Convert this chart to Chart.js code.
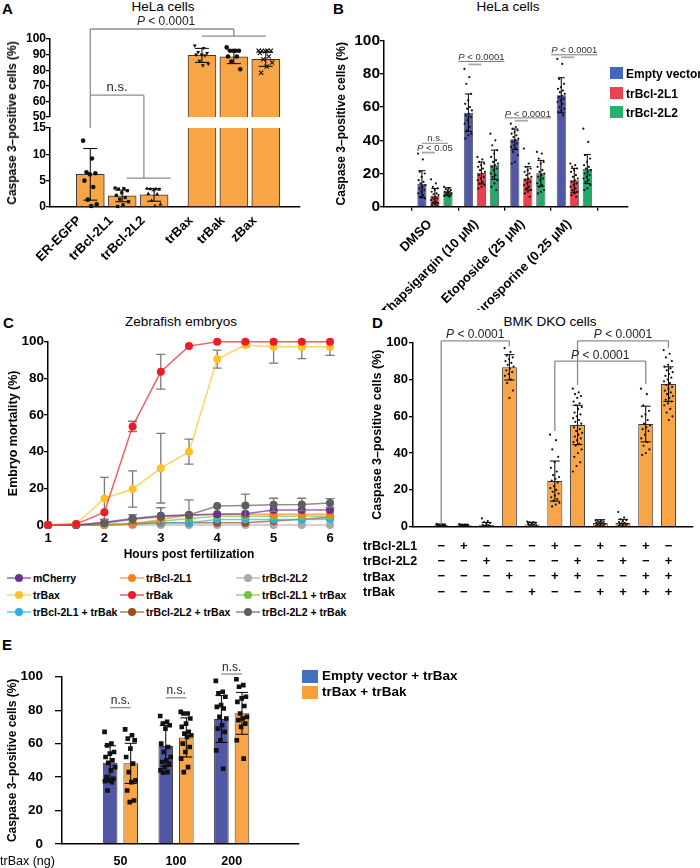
<!DOCTYPE html>
<html lang="en">
<head>
<meta charset="utf-8">
<title>Caspase 3 activation panels</title>
<script src="https://cdn.jsdelivr.net/npm/chart.js@4.4.1/dist/chart.umd.min.js"></script>
<style>
  html, body { margin: 0; padding: 0; background: #fff; }
  body {
    position: relative; width: 700px; height: 868px; overflow: hidden;
    font-family: 'Liberation Sans', Arial, Helvetica, sans-serif; color: #000;
  }
  canvas { position: absolute; }
  .txt { position: absolute; white-space: nowrap; line-height: 1; }
  .box { position: absolute; }
</style>
</head>
<body>
<script>
// ============================================
// DATA
// ============================================

// Panel A - HeLa cells (broken y axis)
const labelsA = ['ER-EGFP', 'trBcl-2L1', 'trBcl-2L2', 'trBax', 'trBak', 'zBax'];
const meanA = [6.2, 2.1, 2.3, 89.5, 88.5, 87.0];
const sdA = [4.9, 1.1, 1.2, 4.5, 4.3, 4.5];
const dotsA = [
  [12.6, 9.2, 6.6, 6.4, 6.2, 5.0, 3.8, 1.4, 0.5, 0.2],
  [3.6, 3.5, 3.4, 3.1, 2.7, 2.2, 1.8, 1.5, 1.0, 0.4, 0.1],
  [3.5, 3.4, 3.4, 3.3, 3.2, 2.5, 2.4, 1.2, 0.5, 0.2],
  [95.7, 94.2, 91.6, 91.0, 90.0, 90.0, 89.5, 86.0, 84.1, 83.0],
  [94.6, 92.5, 92.5, 92.5, 92.5, 88.8, 88.8, 85.6, 80.6],
  [92.5, 92.5, 92.5, 92.4, 92.2, 91.0, 88.8, 87.0, 85.0, 82.3, 78.4]
];

// Panel B - HeLa cells, three series per treatment
const groupsB = ['DMSO', 'Thapsigargin (10 μM)', 'Etoposide (25 μM)', 'Staurosporine (0.25 μM)'];
const seriesB = ['Empty vector', 'trBcl-2L1', 'trBcl-2L2'];
const meanB_empty = [13.7, 56.6, 40.6, 67.1];
const meanB_L1 = [6.6, 20.3, 17.1, 15.9];
const meanB_L2 = [9.0, 25.3, 20.1, 22.7];
const sdB_empty = [8.0, 11.3, 6.2, 10.6];
const sdB_L1 = [4.4, 6.6, 7.0, 7.2];
const sdB_L2 = [2.4, 8.8, 7.8, 8.8];
const dotsB_empty = [
  [32, 28.5, 21, 20, 18, 16, 15, 14, 13, 12, 11, 10, 9, 8, 7, 6, 5, 5.5],
  [83, 78, 74, 68, 64, 62, 60, 59, 58, 56, 55, 54, 52, 50, 48, 46, 44, 43, 41],
  [50, 48, 47, 46, 45, 44, 43, 42, 41, 40, 39, 38, 37, 36, 35, 33, 31, 27, 26],
  [89, 86, 77, 74, 72, 71, 70, 69, 68, 67, 66, 65, 64, 63, 62, 60, 59, 58, 57, 55]
];
const dotsB_L1 = [
  [16.5, 14, 12, 11, 10, 9, 8, 7.5, 7, 6, 5.5, 5, 4.5, 4, 3, 2.5, 2, 1.5, 1, 0.5],
  [30, 28.5, 27, 26, 25, 24, 23, 22, 21, 20, 19, 18, 17, 16, 15, 14, 13, 12, 11],
  [35, 26, 24, 23, 22, 21, 20, 19, 18, 17, 16, 15, 14, 13, 12, 11, 10, 9, 8, 6],
  [26, 25, 24, 23, 22, 21, 19, 18, 17, 16, 15, 14, 13, 12, 11, 10, 9, 8, 7, 6]
];
const dotsB_L2 = [
  [12, 11, 10.5, 10, 9.5, 9, 9, 8.5, 8, 8, 7.5, 7, 7, 6.5, 6],
  [44, 40, 37, 34, 32, 30, 28, 27, 26, 25, 24, 23, 22, 20, 19, 18, 16, 14, 12, 10],
  [33, 32, 29, 27, 26, 24, 22, 21, 20, 19, 18, 17, 16, 14, 13, 12, 10, 9, 8],
  [47, 39, 31, 29, 27, 25, 24, 23, 22, 21, 20, 19, 18, 17, 16, 15, 13, 11, 10]
];

// Panel C - zebrafish embryo mortality over time
const hoursC = [1, 1.5, 2, 2.5, 3, 3.5, 4, 4.5, 5, 5.5, 6];
const namesC = ['mCherry', 'trBcl-2L1', 'trBcl-2L2', 'trBax', 'trBak',
  'trBcl-2L1 + trBax', 'trBcl-2L1 + trBak', 'trBcl-2L2 + trBax', 'trBcl-2L2 + trBak'];
const mortMCherry = [0, 0, 1.5, 3.5, 5, 5.5, 5.8, 6.2, 8.2, 8.2, 8.2];
const mortL1 = [0, 0, 0, 0.5, 3, 5.5, 5.8, 5.8, 5.8, 5.8, 5.8];
const mortL2 = [0, 0, 0, 0, 0, 0, 0, 0, 0, 0, 0];
const mortBax = [0, 0.5, 14.5, 19.6, 31, 40, 90.5, 98.2, 97.3, 97.3, 97.3];
const mortBak = [0, 0.5, 7, 53.8, 83.6, 97.6, 100, 100, 100, 100, 100];
const mortL1Bax = [0, 0, 0.3, 1, 2, 3.5, 4.8, 4.8, 4.8, 4.8, 4.8];
const mortL1Bak = [0, 0, 0.2, 0.5, 1.2, 1.2, 3, 3, 3, 3, 3.2];
const mortL2Bax = [0, 0, 0, 0.5, 1.2, 1.2, 1.2, 1.2, 2.2, 3.2, 4.2];
const mortL2Bak = [0, 0, 1, 3.2, 4.5, 5.5, 10.4, 10.6, 11, 11.2, 12];
const sdMCherry = [0, 0, 0, 0, 4.5, 0, 0, 0, 0, 0, 0];
const sdBax = [0, 0, 11.5, 9.9, 19, 6.8, 4.9, 1, 9, 6.5, 4.8];
const sdBak = [0, 0, 0, 2.8, 9.5, 0, 0, 0, 0, 0, 0];
const sdL2Bak = [0, 0, 0, 2.5, 5, 8.2, 0, 6.2, 3.6, 3.4, 2.4];

// Panel D - BMK DKO cells
const signL1 = ['−', '+', '−', '−', '−', '+', '−', '+', '−', '+', '−'];
const signL2 = ['−', '−', '+', '−', '−', '−', '+', '−', '+', '−', '+'];
const signBax = ['−', '−', '−', '+', '−', '+', '+', '−', '−', '+', '+'];
const signBak = ['−', '−', '−', '−', '+', '−', '−', '+', '+', '+', '+'];
const rowNamesD = ['trBcl-2L1', 'trBcl-2L2', 'trBax', 'trBak'];
const meanD = [0.8, 0.8, 1.0, 86.6, 1.2, 24.8, 55.3, 2.0, 2.0, 55.8, 77.5];
const sdD = [0.6, 0.5, 1.3, 6.9, 1.2, 10.9, 10.7, 1.8, 2.0, 9.7, 9.4];
const dotsD = [
  [1.5, 1.3, 1.1, 1.0, 0.9, 0.8, 0.7, 0.6, 0.5, 0.3, 0.2, 0.1],
  [1.4, 1.2, 1.1, 1.0, 0.9, 0.8, 0.7, 0.6, 0.5, 0.4, 0.3],
  [4.5, 3.0, 2.5, 2.0, 1.5, 1.0, 0.8, 0.5, 0.3, 0.2, 0.1, 0],
  [97, 95, 93, 92, 91, 90, 89, 88, 87, 86, 85, 84, 83, 82, 80, 78, 74, 70],
  [2.8, 2.5, 2.3, 2.0, 1.8, 1.5, 1.2, 1.0, 0.8, 0.5, 0.3, 0.1],
  [50, 47, 42, 38, 35, 32, 30, 28, 27, 26, 25, 24, 22, 21, 20, 19, 18, 17, 16, 15, 14, 13, 12, 11],
  [75, 73, 72, 71, 70, 68, 67, 66, 65, 64, 62, 61, 60, 59, 58, 57, 56, 55, 54, 53, 52, 51, 50, 49, 48, 47, 46, 45, 44, 42, 40, 38, 35, 33, 30],
  [3.5, 3.2, 3.0, 2.8, 2.5, 2.2, 2.0, 1.8, 1.5, 1.2, 1.0, 0.8, 0.5, 0.3],
  [8, 5, 4, 3.5, 3, 2.5, 2, 1.8, 1.5, 1.2, 1, 0.8, 0.5, 0.3],
  [75, 72, 66, 63, 61, 60, 58, 56, 55, 54, 53, 52, 50, 48, 46, 44, 42, 40, 39],
  [96, 94, 92, 90, 88, 87, 86, 85, 84, 83, 82, 81, 80, 79, 78, 77, 76, 75, 74, 73, 72, 71, 70, 69, 68, 67, 66, 64, 62, 60, 58]
];

// Panel E - trBax dose series
const doseE = ['50', '100', '200'];
const seriesE = ['Empty vector + trBax', 'trBax + trBak'];
const meanE_empty = [48.6, 58.6, 74.7];
const meanE_bak = [48.2, 63.7, 78.1];
const sdE_empty = [10.1, 12.2, 14.0];
const sdE_bak = [12.0, 11.7, 12.5];
const dotsE_empty = [
  [67, 60, 59, 55, 54, 52, 50, 48.5, 46, 44, 40, 39, 38, 37.5, 37, 32],
  [76.5, 73, 72, 71, 69, 60, 58, 55, 52, 50, 49, 48, 46, 44, 43, 42.6],
  [97.5, 91, 90, 88, 83, 82, 81, 76, 75, 71, 69, 67, 62, 56, 45]
];
const dotsE_bak = [
  [68.5, 65, 63, 62, 57, 52, 48, 43, 38, 37, 32, 26, 25],
  [79, 78, 78, 75, 72, 70, 67, 66, 65, 64, 60, 58, 55, 51, 46, 43],
  [98.5, 95, 94, 88, 87, 85, 82.5, 78, 76, 75, 74, 72, 70, 62, 51]
];

// ============================================
// SETUP
// ============================================
const FONT = "'Liberation Sans', Arial, Helvetica, sans-serif";
Chart.defaults.font.family = FONT;
Chart.defaults.color = '#000';
Chart.defaults.animation = false;
Chart.defaults.responsive = false;
Chart.defaults.plugins.legend.display = false;
Chart.defaults.plugins.tooltip.enabled = false;

const ORANGE = '#F8A548';
const EDGE = '#3a3a3a';
const BRACKET = '#8c8c8c';

function bold(size) { return { family: FONT, size: size, weight: 'bold' }; }

function alpha(hex, a) {
  const n = parseInt(hex.slice(1), 16);
  return 'rgba(' + (n >> 16) + ',' + ((n >> 8) & 255) + ',' + (n & 255) + ',' + a + ')';
}

function makeCanvas(left, top, w, h) {
  const c = document.createElement('canvas');
  c.width = w; c.height = h;
  c.style.left = left + 'px'; c.style.top = top + 'px';
  c.style.width = w + 'px'; c.style.height = h + 'px';
  document.body.appendChild(c);
  return c.getContext('2d');
}

// text placed by its baseline (line-height 1)
function addText(text, x, baseline, size, opts) {
  opts = opts || {};
  const d = document.createElement('div');
  d.className = 'txt';
  d.textContent = text;
  d.style.fontSize = size + 'px';
  d.style.left = x + 'px';
  d.style.top = (baseline - 0.8465 * size) + 'px';
  if (opts.bold) d.style.fontWeight = 'bold';
  if (opts.center) d.style.transform = 'translateX(-50%)';
  document.body.appendChild(d);
  return d;
}

function addBox(x, y, w, h, color, radius) {
  const d = document.createElement('div');
  d.className = 'box';
  d.style.left = x + 'px'; d.style.top = y + 'px';
  d.style.width = w + 'px'; d.style.height = h + 'px';
  d.style.background = color;
  if (radius) d.style.borderRadius = radius;
  document.body.appendChild(d);
  return d;
}

// deterministic horizontal spread for the individual dots
function spread(k, width) { return (((k * 0.618034) % 1) - 0.5) * width; }

function dotSet(values, center, width, style) {
  return Object.assign({
    type: 'scatter',
    data: values.map((v, k) => ({ x: center + spread(k, width), y: v })),
    pointRadius: 1.2,
    pointBackgroundColor: '#111',
    pointBorderColor: '#111',
    pointBorderWidth: 0,
    order: 0
  }, style || {});
}

function yAxis(o) {
  return {
    type: 'linear', min: o.min, max: o.max,
    ticks: { stepSize: o.step, autoSkip: false, font: bold(o.font), color: '#000', padding: o.pad || 0 },
    grid: { display: true, drawOnChartArea: false, drawTicks: true, tickLength: o.tick || 4, color: '#000', lineWidth: 1.3 },
    border: { display: true, color: '#000', width: 1.5 },
    title: o.title
      ? { display: true, text: o.title, font: bold(o.titleSize || 12), color: '#000', padding: { top: o.titlePad || 0, bottom: 0 } }
      : { display: false },
    afterFit: (a) => { a.width = o.width; }
  };
}

function xAxis(o) {
  return {
    type: 'linear', min: o.min, max: o.max,
    afterBuildTicks: (a) => { a.ticks = o.positions.map(v => ({ value: v })); },
    ticks: {
      autoSkip: false, maxRotation: o.rot || 0, minRotation: o.rot || 0,
      labelOffset: o.shift || 0,
      font: Object.assign(bold(o.font), o.lineHeight ? { lineHeight: o.lineHeight } : {}),
      color: '#000', padding: o.pad || 0,
      callback: (v, i) => o.labels[i]
    },
    grid: { display: !!o.tickMarks, drawOnChartArea: false, drawTicks: !!o.tickMarks, tickLength: 4, color: '#000', lineWidth: 1.3 },
    border: { display: o.border !== false, color: '#000', width: 1.5 },
    title: o.title
      ? { display: true, text: o.title, font: bold(o.titleSize || 12), color: '#000', padding: 0 }
      : { display: false },
    afterFit: (a) => { a.height = o.height; }
  };
}

function seg(ctx, x1, y1, x2, y2) {
  ctx.beginPath(); ctx.moveTo(x1, y1); ctx.lineTo(x2, y2); ctx.stroke();
}

// text with an italic leading "P"
function pText(ctx, txt, cx, y, size, color) {
  const italicP = txt.charAt(0) === 'P';
  const head = italicP ? 'P' : '';
  const rest = italicP ? txt.slice(1) : txt;
  ctx.font = 'italic ' + size + 'px ' + FONT;
  const wP = head ? ctx.measureText(head).width : 0;
  ctx.font = size + 'px ' + FONT;
  const wR = ctx.measureText(rest).width;
  const x = cx - (wP + wR) / 2;
  ctx.fillStyle = color || '#222';
  ctx.textAlign = 'left';
  ctx.textBaseline = 'alphabetic';
  if (head) { ctx.font = 'italic ' + size + 'px ' + FONT; ctx.fillText(head, x, y); }
  ctx.font = size + 'px ' + FONT;
  ctx.fillText(rest, x + wP, y);
  return { left: x, right: x + wP + wR };
}

// ============================================
// ERROR BARS (mean ± SD) through the chart scales
// ============================================
function drawErrorBars(chart, index) {
  const ds = chart.data.datasets[index];
  if (!ds.sd) return;
  const meta = chart.getDatasetMeta(index);
  const ys = chart.scales[meta.yAxisID];
  const area = chart.chartArea;
  const ctx = chart.ctx;
  ctx.save();
  ctx.beginPath();
  ctx.rect(area.left - 10, area.top, area.right - area.left + 20, area.bottom - area.top);
  ctx.clip();
  ctx.strokeStyle = ds.errColor || '#000';
  ctx.lineWidth = ds.errWidth || 1;
  const c = ds.cap || 4;
  meta.data.forEach((el, i) => {
    const sd = ds.sd[i];
    if (!sd) return;
    const v = ds.data[i].y;
    const yHi = ys.getPixelForValue(v + sd), yLo = ys.getPixelForValue(v - sd);
    seg(ctx, el.x, yHi, el.x, yLo);
    seg(ctx, el.x - c, yHi, el.x + c, yHi);
    seg(ctx, el.x - c, yLo, el.x + c, yLo);
  });
  ctx.restore();
}

Chart.register({
  id: 'errorBars',
  beforeDatasetDraw(chart, args) {
    if (chart.data.datasets[args.index].errUnder) drawErrorBars(chart, args.index);
  },
  afterDatasetDraw(chart, args) {
    if (!chart.data.datasets[args.index].errUnder) drawErrorBars(chart, args.index);
  }
});

// ============================================
// PANEL LETTERS AND TITLES
// ============================================
addText('A', 2, 14, 15, { bold: true });
addText('B', 333, 14, 15, { bold: true });
addText('C', 3, 327.5, 15, { bold: true });
addText('D', 372, 327.5, 15, { bold: true });
addText('E', 2, 650, 15, { bold: true });
addText('HeLa cells', 163, 11, 13.5, { center: true });
addText('HeLa cells', 508, 11, 13.5, { center: true });
addText('Zebrafish embryos', 181, 326.7, 13.5, { center: true });
addText('BMK DKO cells', 550, 326.7, 13.5, { center: true });

// ============================================
// PANEL A (two stacked charts make the broken axis)
// ============================================
const gapA = 0.5;
const posA = (i) => i + (i >= 3 ? gapA : 0);
const markerA = ['circle', 'rect', 'triangle', 'triangle', 'circle', 'crossRot'];
const markerRotA = [0, 0, 0, 180, 0, 0];

function datasetsA(clip) {
  const list = [{
    type: 'bar',
    data: labelsA.map((_, i) => ({ x: posA(i), y: meanA[i] })),
    backgroundColor: ORANGE, borderColor: EDGE, borderWidth: 1,
    barThickness: 28, sd: sdA, cap: 7, clip: clip, order: 1
  }];
  dotsA.forEach((vals, i) => {
    const cross = markerA[i] === 'crossRot';
    list.push(dotSet(vals, posA(i), 0.45, {
      pointStyle: markerA[i], rotation: markerRotA[i],
      pointRadius: cross ? 3 : 2.3, pointBorderWidth: cross ? 1.1 : 0, clip: clip
    }));
  });
  return list;
}

function xAxisA(height) {
  return xAxis({
    min: -0.61, max: 5.92, positions: labelsA.map((_, i) => posA(i)), labels: labelsA,
    rot: 45, font: 13, pad: 6, shift: -11, height: height
  });
}

const chartAUp = new Chart(makeCanvas(0, 0, 310, 280), {
  type: 'bar',
  data: { datasets: datasetsA({ left: false, right: false, top: 6, bottom: 0 }) },
  options: {
    layout: { autoPadding: false, padding: { top: 39, bottom: 163, left: 0, right: 10 } },
    scales: {
      x: Object.assign(xAxisA(0), { display: false }),
      y: yAxis({ min: 50, max: 100, step: 10, width: 50, font: 12, tick: 4, pad: 0 })
    }
  }
});

const bracketsA = {
  id: 'bracketsA',
  afterDraw(chart) {
    const ctx = chart.ctx;
    const xs = chart.scales.x, yLo = chart.scales.y, yUp = chartAUp.scales.y;
    const X = (v) => xs.getPixelForValue(v);
    ctx.save();
    ctx.strokeStyle = BRACKET;
    ctx.lineWidth = 1.3;
    // ER-EGFP vs trBax / trBak / zBax
    const yTop = yUp.getPixelForValue(106.4), yJoin = yUp.getPixelForValue(101.9);
    seg(ctx, X(posA(0)), yTop, X(posA(4)), yTop);
    seg(ctx, X(posA(0)), yTop, X(posA(0)), yLo.getPixelForValue(15));
    seg(ctx, X(posA(4)), yTop, X(posA(4)), yJoin);
    seg(ctx, X(posA(3)), yJoin, X(posA(5)), yJoin);
    pText(ctx, 'P < 0.0001', (X(posA(0)) + X(posA(4))) / 2 + 4, yTop - 4, 12, '#222');
    // ER-EGFP vs trBcl-2L1 / trBcl-2L2
    const yNs = yUp.getPixelForValue(64), yNsLow = yLo.getPixelForValue(5.5);
    const xMid = X(1.68);
    seg(ctx, X(posA(0)), yNs, xMid, yNs);
    seg(ctx, xMid, yNs, xMid, yNsLow);
    seg(ctx, X(1.14), yNsLow, X(2.52), yNsLow);
    ctx.font = '13px ' + FONT;
    ctx.fillStyle = '#222';
    ctx.textAlign = 'center';
    ctx.textBaseline = 'alphabetic';
    ctx.fillText('n.s.', (X(posA(0)) + xMid) / 2, yNs - 4);
    ctx.restore();
  }
};

new Chart(makeCanvas(0, 0, 310, 280), {
  type: 'bar',
  data: { datasets: datasetsA({ left: false, right: false, top: 0, bottom: 4 }) },
  options: {
    layout: { autoPadding: false, padding: { top: 128, bottom: 0, left: 0, right: 10 } },
    scales: {
      x: xAxisA(73),
      y: yAxis({ min: 0, max: 15, step: 5, width: 50, font: 12, tick: 4, pad: 0 })
    }
  },
  plugins: [bracketsA]
});

(function () {
  const t = addText('Caspase 3–positive cells (%)', 0, 0, 12, { bold: true });
  t.style.left = '12px';
  t.style.top = '123px';
  t.style.transform = 'translate(-50%, -50%) rotate(-90deg)';
})();

// ============================================
// PANEL B
// ============================================
const colorsB = ['#5158A6', '#EE3F4C', '#23A96B'];
const legendColorsB = ['#4366BF', '#EF4152', '#26B06F'];
const meansB = [meanB_empty, meanB_L1, meanB_L2];
const sdsB = [sdB_empty, sdB_L1, sdB_L2];
const dotsB = [dotsB_empty, dotsB_L1, dotsB_L2];
const slotB = 0.84 / 3;

const datasetsB = seriesB.map((name, d) => ({
  type: 'bar', label: name,
  data: groupsB.map((_, g) => ({ x: g, y: meansB[d][g] })),
  backgroundColor: colorsB[d], borderColor: EDGE, borderWidth: 0.8,
  categoryPercentage: 0.84, barPercentage: 0.7,
  sd: sdsB[d], cap: 3.5, order: 1
}));
dotsB.forEach((perGroup, d) => {
  perGroup.forEach((vals, g) => {
    datasetsB.push(dotSet(vals, g + (d - 1) * slotB, 0.17, { pointRadius: 1.1 }));
  });
});

const sigB = {
  id: 'sigB',
  afterDatasetsDraw(chart) {
    const ctx = chart.ctx, ys = chart.scales.y;
    const bx = (d, g) => chart.getDatasetMeta(d).data[g].x;
    const Y = (v) => ys.getPixelForValue(v);
    ctx.save();
    // DMSO
    ctx.strokeStyle = '#9a9a9a'; ctx.lineWidth = 1.2;
    pText(ctx, 'n.s.', (bx(0, 0) + bx(2, 0)) / 2, Y(39.3), 9.5, '#333');
    seg(ctx, bx(0, 0), Y(38.2), bx(2, 0), Y(38.2));
    pText(ctx, 'P < 0.05', (bx(0, 0) + bx(2, 0)) / 2, Y(33.8), 9.5, '#333');
    ctx.lineWidth = 1.8; ctx.strokeStyle = '#a8a8a8';
    seg(ctx, bx(0, 0), Y(32.6), bx(1, 0), Y(32.6));
    // treated groups: [group, text level, underline level, thick line level]
    [[1, 88.4, 87.5, 85.7], [2, 54.3, 53.5, 51.8], [3, 92.3, 91.5, 90.0]].forEach(([g, tl, ul, kl]) => {
      const r = pText(ctx, 'P < 0.0001', (bx(0, g) + bx(2, g)) / 2, Y(tl), 9.5, '#333');
      ctx.lineWidth = 0.8; ctx.strokeStyle = '#555';
      seg(ctx, r.left, Y(ul), r.right, Y(ul));
      ctx.lineWidth = 1.8; ctx.strokeStyle = '#a8a8a8';
      seg(ctx, bx(0, g), Y(kl), bx(1, g), Y(kl));
    });
    ctx.restore();
  }
};

new Chart(makeCanvas(334, 0, 366, 310), {
  type: 'bar',
  data: { datasets: datasetsB },
  options: {
    layout: { autoPadding: false, padding: { top: 40.7, bottom: 0, left: 0, right: 72 } },
    scales: {
      x: xAxis({ min: -0.44, max: 3.5, positions: [0, 1, 2, 3], labels: groupsB, rot: 45, font: 13, pad: 6, shift: -5, tickMarks: true, height: 103.3 }),
      y: yAxis({ min: 0, max: 100, step: 20, width: 50, font: 15.5, tick: 4, pad: 0, title: 'Caspase 3–positive cells (%)', titleSize: 12, titlePad: 0 })
    }
  },
  plugins: [sigB]
});

seriesB.forEach((name, d) => {
  const top = [67, 87, 106][d];
  addBox(610, top, 13, 11.5, legendColorsB[d]);
  addText(name, 626, top + 11, 12, { bold: true });
});

// ============================================
// PANEL C
// ============================================
const seriesC = [mortMCherry, mortL1, mortL2, mortBax, mortBak, mortL1Bax, mortL1Bak, mortL2Bax, mortL2Bak];
const sdC = [sdMCherry, null, null, sdBax, sdBak, null, null, null, sdL2Bak];
const colorsC = ['#6E2F91', '#F58220', '#A8A8A8', '#FFC125', '#ED1C24', '#72BF44', '#2BB0E6', '#9E4A1E', '#5E5E5E'];
const layerC = [3, 4, 8, 1, 0, 5, 6, 7, 2];

new Chart(makeCanvas(0, 310, 345, 252), {
  type: 'line',
  data: {
    datasets: seriesC.map((vals, k) => ({
      label: namesC[k],
      data: vals.map((v, i) => ({ x: hoursC[i], y: v })),
      borderColor: alpha(colorsC[k], 0.7), borderWidth: 1.5,
      pointRadius: 4, pointBackgroundColor: colorsC[k], pointBorderWidth: 0,
      tension: 0, clip: false, order: layerC[k],
      sd: sdC[k] || undefined, errColor: '#7a7a7a', errWidth: 1.3, cap: 4.5, errUnder: true
    }))
  },
  options: {
    layout: { autoPadding: false, padding: { top: 31.7, bottom: 0, left: 0, right: 15 } },
    scales: {
      x: {
        type: 'linear', min: 1, max: 6,
        ticks: { stepSize: 1, font: bold(13), color: '#000', padding: 5.6 },
        grid: { display: false, drawTicks: false },
        border: { display: false },
        title: { display: true, text: 'Hours post fertilization', font: bold(12), color: '#000', padding: 0 },
        afterFit: (a) => { a.height = 37; }
      },
      y: yAxis({ min: 0, max: 100, step: 20, width: 48, font: 13.5, tick: 4, pad: 0, title: 'Embryo mortality (%)', titleSize: 12.5, titlePad: 6.5 })
    }
  }
});

(function () {
  const colX = [7, 120, 236];
  namesC.forEach((name, k) => {
    const col = k % 3, row = Math.floor(k / 3);
    const cy = 578 + row * 17, x0 = colX[col];
    addBox(x0, cy - 1.25, 24, 2.5, alpha(colorsC[k], 0.55));
    addBox(x0 + 8, cy - 4, 8, 8, colorsC[k], '50%');
    addText(name, x0 + 26, cy + 3.7, 10.5, { bold: true });
  });
})();

// ============================================
// PANEL D
// ============================================
const datasetsD = [{
  type: 'bar',
  data: meanD.map((v, i) => ({ x: i, y: v })),
  backgroundColor: ORANGE, borderColor: EDGE, borderWidth: 1,
  categoryPercentage: 1, barPercentage: 0.66,
  sd: sdD, cap: 5, order: 1
}];
dotsD.forEach((vals, i) => datasetsD.push(dotSet(vals, i, 0.42, { pointRadius: 1.1 })));

// [from bar, to bar, bracket level, left drop, right drop]
const bracketDefsD = [[0, 3, 101, 1, 98], [6, 10, 101, 77, 97], [5, 9, 90, 52, 77.5]];
const bracketsD = {
  id: 'bracketsD',
  afterDatasetsDraw(chart) {
    const ctx = chart.ctx, xs = chart.scales.x, ys = chart.scales.y;
    const X = (v) => xs.getPixelForValue(v), Y = (v) => ys.getPixelForValue(v);
    ctx.save();
    ctx.strokeStyle = BRACKET;
    ctx.lineWidth = 1.3;
    bracketDefsD.forEach(([a, b, lvl, da, db]) => {
      seg(ctx, X(a), Y(lvl), X(b), Y(lvl));
      seg(ctx, X(a), Y(lvl), X(a), Y(da));
      seg(ctx, X(b), Y(lvl), X(b), Y(db));
      pText(ctx, 'P < 0.0001', (X(a) + X(b)) / 2, Y(lvl) - 2.6, 12, '#222');
    });
    ctx.restore();
  }
};

new Chart(makeCanvas(365, 310, 335, 300), {
  type: 'bar',
  data: { datasets: datasetsD },
  options: {
    layout: { autoPadding: false, padding: { top: 32.7, bottom: 0, left: 0, right: 7 } },
    scales: {
      x: xAxis({
        min: -0.68, max: 10.52, positions: meanD.map((_, i) => i),
        labels: meanD.map((_, i) => [signL1[i], signL2[i], signBax[i], signBak[i]]),
        font: 13, lineHeight: 1.18, pad: 11.6, height: 83.3
      }),
      y: yAxis({ min: 0, max: 100, step: 20, width: 48, font: 13, tick: 4, pad: 1, title: 'Caspase 3–positive cells (%)', titleSize: 12.5, titlePad: 5 })
    }
  },
  plugins: [bracketsD]
});

rowNamesD.forEach((name, r) => addText(name, 363, 550.5 + r * 15.3, 12.5, { bold: true }));

// ============================================
// PANEL E
// ============================================
const colorsE = ['#5157A6', ORANGE];
const legendColorsE = ['#4470C2', '#F7A03C'];
const meansE = [meanE_empty, meanE_bak];
const sdsE = [sdE_empty, sdE_bak];
const dotsE = [dotsE_empty, dotsE_bak];
const slotE = 0.74 / 2;

const datasetsE = seriesE.map((name, d) => ({
  type: 'bar', label: name,
  data: doseE.map((_, g) => ({ x: g, y: meansE[d][g] })),
  backgroundColor: colorsE[d], borderColor: EDGE, borderWidth: 1,
  categoryPercentage: 0.74, barPercentage: 0.71,
  sd: sdsE[d], cap: 6, order: 1
}));
dotsE.forEach((perGroup, d) => {
  perGroup.forEach((vals, g) => {
    datasetsE.push(dotSet(vals, g + (d - 0.5) * slotE, 0.2, { pointStyle: 'rect', pointRadius: 3.3 }));
  });
});

const nsLevelE = [81.5, 87.4, 101.6];
const nsE = {
  id: 'nsE',
  afterDatasetsDraw(chart) {
    const ctx = chart.ctx, ys = chart.scales.y;
    ctx.save();
    ctx.strokeStyle = BRACKET;
    ctx.lineWidth = 1.3;
    nsLevelE.forEach((lvl, g) => {
      const x1 = chart.getDatasetMeta(0).data[g].x, x2 = chart.getDatasetMeta(1).data[g].x;
      const y = ys.getPixelForValue(lvl);
      seg(ctx, x1, y, x2, y);
      pText(ctx, 'n.s.', (x1 + x2) / 2, y - 3.5, 12, '#222');
    });
    ctx.restore();
  }
};

new Chart(makeCanvas(0, 630, 305, 238), {
  type: 'bar',
  data: { datasets: datasetsE },
  options: {
    layout: { autoPadding: false, padding: { top: 46.7, bottom: 0, left: 0, right: 6 } },
    scales: {
      x: xAxis({ min: -0.34, max: 2.5, positions: [0, 1, 2], labels: doseE, font: 12.5, pad: 10, height: 24 }),
      y: yAxis({ min: 0, max: 100, step: 20, width: 62, font: 13.5, tick: 7, pad: 12, title: 'Caspase 3–positive cells (%)', titleSize: 12, titlePad: 5.3 })
    }
  },
  plugins: [nsE]
});

addText('trBax (ng)', 0, 866, 12.5);
seriesE.forEach((name, d) => {
  const top = [670, 686][d];
  addBox(302, top, 16, 12.5, legendColorsE[d]);
  addText(name, 322, top + 10.5, 13.5, { bold: true });
});
</script>
</body>
</html>
